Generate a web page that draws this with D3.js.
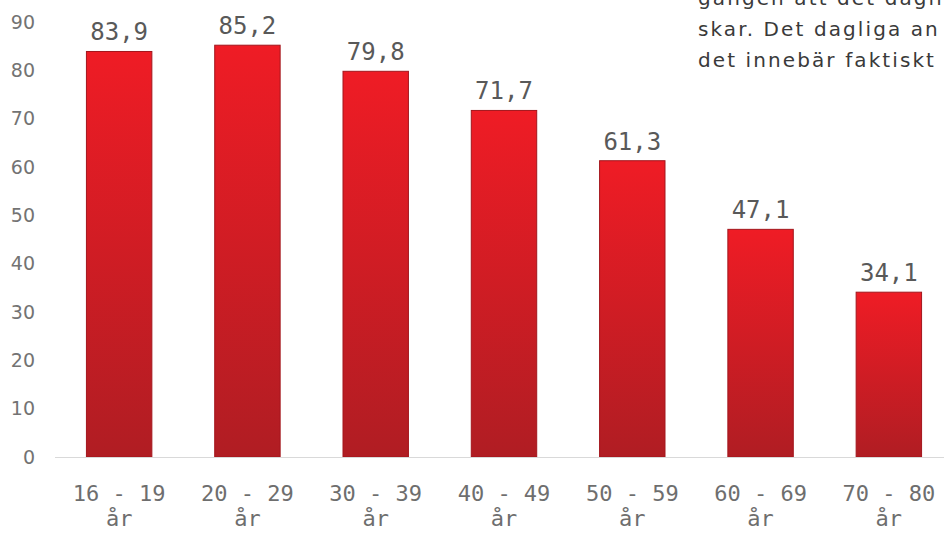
<!DOCTYPE html>
<html><head><meta charset="utf-8">
<script src="https://cdn.jsdelivr.net/npm/d3@7"></script>
<style>html,body{margin:0;padding:0;background:#fff;overflow:hidden}</style>
</head><body>
<svg id="c" width="944" height="534"></svg>
<script>
const categories = ["16 - 19", "20 - 29", "30 - 39", "40 - 49", "50 - 59", "60 - 69", "70 - 80"];
const categorySuffix = "år";
const values = [83.9, 85.2, 79.8, 71.7, 61.3, 47.1, 34.1];
const valueLabels = ["83,9", "85,2", "79,8", "71,7", "61,3", "47,1", "34,1"];
const yTicks = [0, 10, 20, 30, 40, 50, 60, 70, 80, 90];
const articleLines = ["gången att det dagli", "skar.  Det dagliga an", "det innebär faktiskt e"];

const svg = d3.select("#c");
const defs = svg.append("defs");
const g = defs.append("linearGradient").attr("id","bg").attr("x1",0).attr("y1",0).attr("x2",0).attr("y2",1);
g.append("stop").attr("offset","0%").attr("stop-color","#ef1c25");
g.append("stop").attr("offset","100%").attr("stop-color","#b01d23");

const x = d3.scaleBand().domain(categories).range([55, 953]).paddingInner(0.49).paddingOuter(0.245);
const y = d3.scaleLinear().domain([0, 90]).range([457, 22]);

// y axis labels
svg.append("g").selectAll("text").data(yTicks).join("text")
  .attr("x", 35).attr("y", d => y(d)).attr("dy", "0.35em")
  .attr("text-anchor", "end")
  .attr("font-family", "DejaVu Sans, Verdana, sans-serif").attr("font-size", 19)
  .attr("fill", "#737373").text(d => d);

// bars
svg.append("g").selectAll("rect").data(values).join("rect")
  .attr("x", (d,i) => x(categories[i])).attr("width", x.bandwidth())
  .attr("y", d => y(d)).attr("height", d => y(0) - y(d))
  .attr("fill", "url(#bg)").attr("stroke", "#a3161c").attr("stroke-width", 1);

// baseline
svg.append("line").attr("x1", 55).attr("x2", 944).attr("y1", y(0)+0.5).attr("y2", y(0)+0.5)
  .attr("stroke", "#d9d9d9").attr("stroke-width", 1.2);

// value labels
svg.append("g").selectAll("text").data(values).join("text")
  .attr("x", (d,i) => x(categories[i]) + x.bandwidth()/2)
  .attr("y", d => y(d) - 11)
  .attr("text-anchor", "middle")
  .attr("font-family", "DejaVu Sans Mono, monospace").attr("font-size", 24)
  .attr("fill", "#595959").text((d,i) => valueLabels[i]);

// x labels
const xl = svg.append("g").selectAll("text").data(categories).join("text")
  .attr("text-anchor", "middle")
  .attr("font-family", "DejaVu Sans Mono, monospace").attr("font-size", 22)
  .attr("fill", "#6e6e6e");
xl.append("tspan").attr("x", d => x(d) + x.bandwidth()/2).attr("y", 501).text(d => d);
xl.append("tspan").attr("x", d => x(d) + x.bandwidth()/2).attr("y", 526).text(categorySuffix);

// article text overlay
const art = svg.append("g").selectAll("text").data(articleLines).join("text")
  .attr("x", 698).attr("y", (d,i) => 5 + i*31)
  .attr("font-family", "DejaVu Sans, sans-serif").attr("font-size", 20)
  .attr("fill", "#3a3a3a").text(d => d);
const refNode = art.nodes()[1];
const w = refNode.getComputedTextLength();
const ls = (244 - w) / (articleLines[1].length);
art.attr("letter-spacing", ls);
</script>
</body></html>
